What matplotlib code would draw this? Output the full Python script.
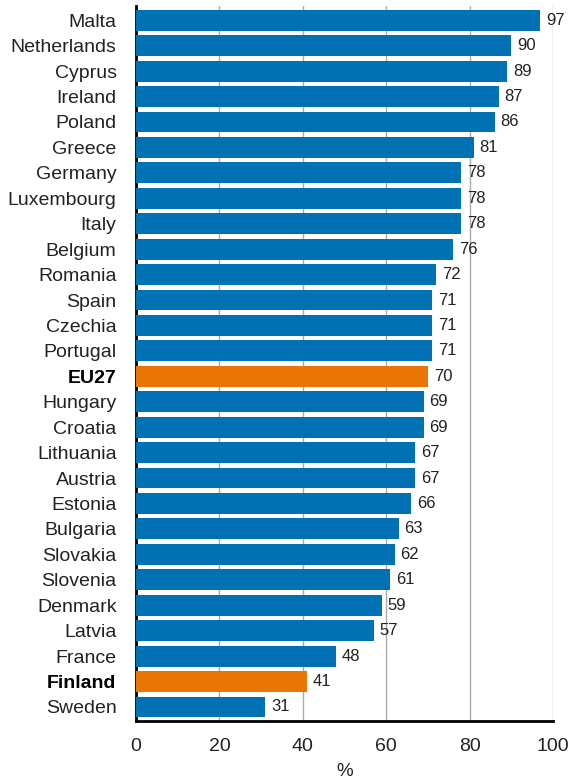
import matplotlib.pyplot as plt
import matplotlib.transforms as mtransforms

countries = ['Malta', 'Netherlands', 'Cyprus', 'Ireland', 'Poland', 'Greece',
             'Germany', 'Luxembourg', 'Italy', 'Belgium', 'Romania', 'Spain',
             'Czechia', 'Portugal', 'EU27', 'Hungary', 'Croatia', 'Lithuania',
             'Austria', 'Estonia', 'Bulgaria', 'Slovakia', 'Slovenia', 'Denmark',
             'Latvia', 'France', 'Finland', 'Sweden']
values = [97, 90, 89, 87, 86, 81, 78, 78, 78, 76, 72, 71, 71, 71, 70, 69, 69,
          67, 67, 66, 63, 62, 61, 59, 57, 48, 41, 31]
highlight = ['EU27', 'Finland']
xticks = [0, 20, 40, 60, 80, 100]

blue = '#0071b2'
orange = '#e97604'

plt.rcParams['font.family'] = ['Liberation Sans', 'DejaVu Sans']

fig = plt.figure(figsize=(5.79, 7.79), dpi=100)
ax = fig.add_axes([0.235, 0.0745, 0.72, 0.9175])

ypos = list(range(len(countries)))[::-1]
colors = [orange if c in highlight else blue for c in countries]
ax.barh(ypos, values, height=0.82, color=colors, zorder=3)

for y, v in zip(ypos, values):
    ax.text(v + 1.4, y, str(v), va='center', ha='left', fontsize=12, color='#222222', zorder=4)

ax.set_xlim(0, 100)
ax.set_ylim(-0.55, len(countries) - 0.45)
ax.set_yticks(ypos)
ax.set_yticklabels(countries, fontsize=14, color='#222222')
for lbl in ax.get_yticklabels():
    if lbl.get_text() in highlight:
        lbl.set_fontweight('bold')
        lbl.set_color('black')
ax.set_xticks(xticks)
ax.set_xticklabels([str(t) for t in xticks], fontsize=14, color='#222222')
offset = mtransforms.ScaledTranslation(7 / 100, 0, fig.dpi_scale_trans)
for lbl in ax.get_xticklabels():
    lbl.set_transform(lbl.get_transform() + offset)

ax.tick_params(axis='y', length=0, pad=14)
ax.tick_params(axis='x', length=0, pad=12)
ax.set_xlabel('%', fontsize=13.5, color='#222222', labelpad=6)

ax.grid(axis='x', color='#aaaaaa', linewidth=1, zorder=0)
ax.set_axisbelow(True)
for s in ['top', 'right']:
    ax.spines[s].set_visible(False)
ax.spines['left'].set_linewidth(2)
ax.spines['bottom'].set_linewidth(2)

plt.savefig('out.png', dpi=100)
